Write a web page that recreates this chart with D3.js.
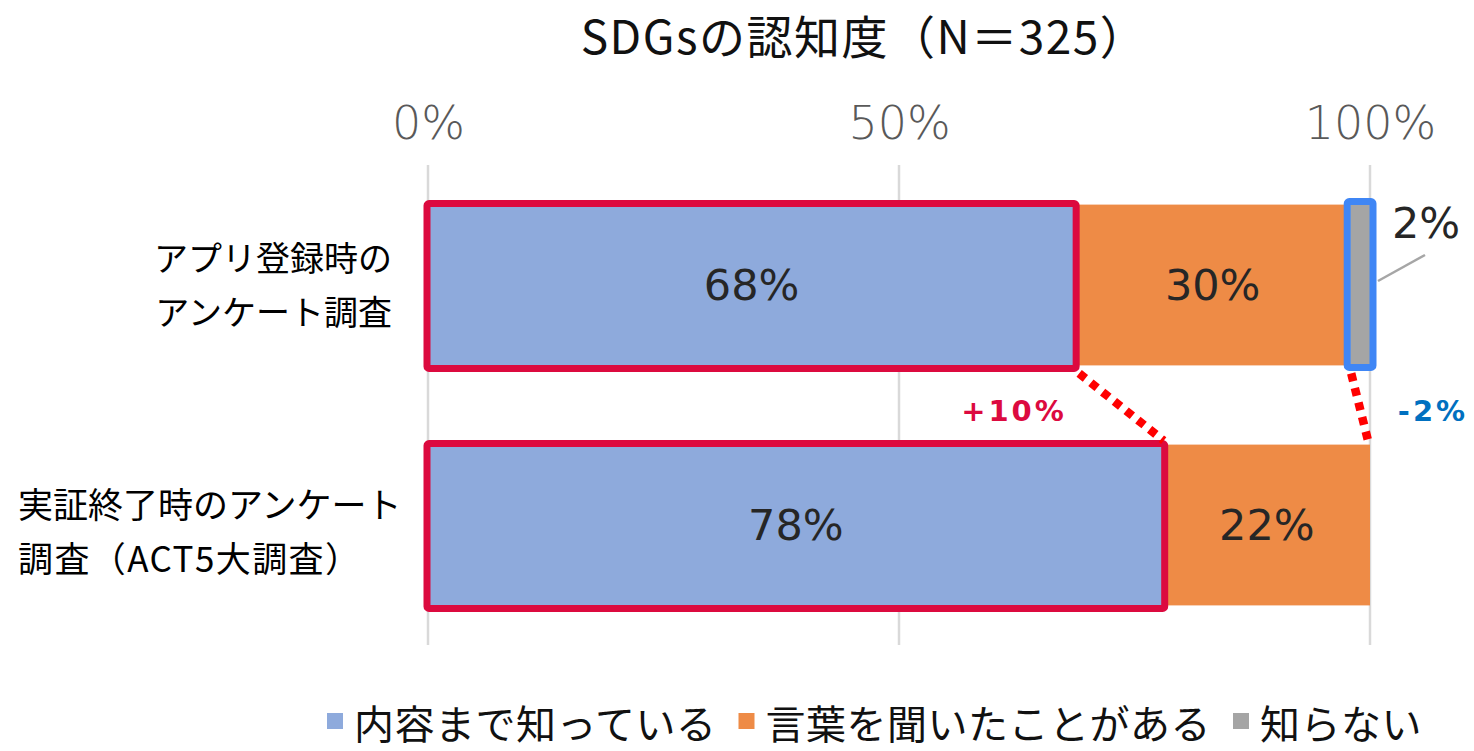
<!DOCTYPE html>
<html>
<head>
<meta charset="utf-8">
<script src="https://cdn.jsdelivr.net/npm/d3@7"></script>
<style>
  html, body { margin: 0; padding: 0; background: #ffffff; }
  svg { display: block; }
</style>
</head>
<body>
<svg id="chart" width="1474" height="751"></svg>
<script>
// ---------- data ----------
const titleText = "SDGsの認知度（N＝325）";
const categories = ["アプリ登録時のアンケート調査", "実証終了時のアンケート調査（ACT5大調査）"];
const categoryLines = [["アプリ登録時の", "アンケート調査"], ["実証終了時のアンケート", "調査（ACT5大調査）"]];
const seriesNames = ["内容まで知っている", "言葉を聞いたことがある", "知らない"];
const knowContent = [68.7, 78.1];
const heardWord = [29.2, 21.9];
const dontKnow = [2.1, 0];
const valueLabels = [["68%", "30%", "2%"], ["78%", "22%", ""]];
const tickValues = [0, 50, 100];
const tickLabels = ["0%", "50%", "100%"];
const diffLabels = ["+10%", "-2%"];

// ---------- setup ----------
const JP = "'Noto Sans CJK JP', 'Noto Sans', sans-serif";
const LAT = "'DejaVu Sans', 'Noto Sans CJK JP', sans-serif";
const colors = ["#8eaadc", "#ee8b46", "#a5a5a5"];
const svg = d3.select("#chart");

const x = d3.scaleLinear().domain([0, 100]).range([428, 1370]);
const y = d3.scaleBand().domain(categories).range([165, 645]).paddingInner(0.33).paddingOuter(0.165);
const color = d3.scaleOrdinal().domain(seriesNames).range(colors);

const rows = categories.map((c, i) => ({
  cat: c,
  [seriesNames[0]]: knowContent[i],
  [seriesNames[1]]: heardWord[i],
  [seriesNames[2]]: dontKnow[i]
}));
const stacked = d3.stack().keys(seriesNames)(rows);

// title
svg.append("text")
  .attr("x", 864).attr("y", 54)
  .attr("text-anchor", "middle")
  .attr("font-family", JP).attr("font-size", 46).attr("font-weight", 400)
  .attr("letter-spacing", 1.5)
  .attr("fill", "#111")
  .text(titleText);

// gridlines
svg.append("g").selectAll("line").data(tickValues).join("line")
  .attr("x1", d => x(d)).attr("x2", d => x(d))
  .attr("y1", 165).attr("y2", 645)
  .attr("stroke", "#d9d9d9").attr("stroke-width", 2.5);

// axis labels
const axis = d3.axisTop(x).tickValues(tickValues).tickFormat((d, i) => tickLabels[i]).tickSize(0).tickPadding(0);
const axG = svg.append("g").attr("transform", "translate(0,139)").call(axis);
axG.select(".domain").remove();
axG.selectAll("text")
  .attr("font-family", LAT).attr("font-size", 46).attr("font-weight", 200)
  .attr("fill", "#595959");

// bars
const layers = svg.append("g").selectAll("g").data(stacked).join("g")
  .attr("fill", d => color(d.key));
layers.selectAll("rect").data(d => d.map(v => ({ v, key: d.key }))).join("rect")
  .attr("x", d => x(d.v[0]))
  .attr("y", d => y(d.v.data.cat))
  .attr("width", d => Math.max(0, x(d.v[1]) - x(d.v[0])))
  .attr("height", y.bandwidth());

// in-bar value labels (skip the tiny gray segment)
const labG = svg.append("g");
stacked.forEach((layer, si) => {
  layer.forEach((v, ci) => {
    const txt = valueLabels[ci][si];
    if (!txt || si === 2) return;
    labG.append("text")
      .attr("x", (x(v[0]) + x(v[1])) / 2)
      .attr("y", y(v.data.cat) + y.bandwidth() / 2)
      .attr("dy", "0.36em")
      .attr("text-anchor", "middle")
      .attr("font-family", LAT).attr("font-size", 43)
      .attr("fill", "#262626")
      .text(txt);
  });
});

// outside label for the gray segment with leader line
const g0 = stacked[2][0];
const bandMid0 = y(categories[0]) + y.bandwidth() / 2;
svg.append("line")
  .attr("x1", x(g0[1]) + 8).attr("y1", bandMid0 - 4)
  .attr("x2", x(g0[1]) + 55).attr("y2", bandMid0 - 30)
  .attr("stroke", "#a6a6a6").attr("stroke-width", 2.5);
svg.append("text")
  .attr("x", x(g0[1]) + 56).attr("y", y(categories[0]) + 33)
  .attr("text-anchor", "middle")
  .attr("font-family", LAT).attr("font-size", 43)
  .attr("fill", "#262626")
  .text(valueLabels[0][2]);

// category labels
const catG = svg.append("g");
categoryLines.forEach((lines, i) => {
  const anchor = i === 0 ? "end" : "start";
  const tx = i === 0 ? 392 : 18;
  const base = i === 0 ? 271 : 518;
  const fs = i === 0 ? 34 : 35;
  lines.forEach((ln, j) => {
    const t = catG.append("text")
      .attr("x", tx).attr("y", base + j * 54)
      .attr("text-anchor", anchor)
      .attr("font-family", JP).attr("font-size", fs)
      .attr("fill", "#000")
      .text(ln);
    if (i === 1 && j === 1) t.attr("textLength", 342).attr("lengthAdjust", "spacing");
  });
});

// highlight boxes
const hl = svg.append("g").attr("fill", "none").attr("stroke-linejoin", "round");
categories.forEach((c, i) => {
  hl.append("rect")
    .attr("x", x(0) - 1).attr("y", y(c) - 1)
    .attr("width", x(knowContent[i]) - x(0) + 2)
    .attr("height", y.bandwidth() + 4)
    .attr("rx", 2)
    .attr("stroke", "#dc0a3f").attr("stroke-width", 7);
});
hl.append("rect")
  .attr("x", x(g0[0]) - 3).attr("y", y(categories[0]) - 3)
  .attr("width", x(g0[1]) - x(g0[0]) + 6)
  .attr("height", y.bandwidth() + 5)
  .attr("rx", 2)
  .attr("stroke", "#3f86f5").attr("stroke-width", 7);

// dotted connectors
const dots = svg.append("g").attr("stroke", "#ff0000").attr("stroke-width", 8.5).attr("stroke-dasharray", "8 7").attr("fill", "none");
const yb0 = y(categories[0]) + y.bandwidth() + 4;
const yt1 = y(categories[1]) - 4;
dots.append("line")
  .attr("x1", x(knowContent[0]) + 4).attr("y1", yb0 + 4)
  .attr("x2", x(knowContent[1])).attr("y2", yt1);
dots.append("line")
  .attr("x1", x(g0[0]) + 1).attr("y1", yb0 + 4)
  .attr("x2", x(100) - 2).attr("y2", yt1);

// difference labels
svg.append("text")
  .attr("x", 1014).attr("y", 421)
  .attr("text-anchor", "middle")
  .attr("font-family", LAT).attr("font-size", 29).attr("font-weight", "bold")
  .attr("letter-spacing", 3)
  .attr("fill", "#dc0a3f")
  .text(diffLabels[0]);
svg.append("text")
  .attr("x", 1433).attr("y", 421)
  .attr("text-anchor", "middle")
  .attr("font-family", LAT).attr("font-size", 29).attr("font-weight", "bold")
  .attr("letter-spacing", 3)
  .attr("fill", "#0070c0")
  .text(diffLabels[1]);

// legend
const leg = svg.append("g");
let lx = 327;
seriesNames.forEach((name, i) => {
  leg.append("rect")
    .attr("x", lx).attr("y", 713).attr("width", 16).attr("height", 16)
    .attr("fill", color(name));
  const t = leg.append("text")
    .attr("x", lx + 27).attr("y", 739)
    .attr("font-family", JP).attr("font-size", 40)
    .attr("letter-spacing", 0.5)
    .attr("fill", "#111")
    .text(name);
  lx += 27 + t.node().getComputedTextLength() + 22;
});
</script>
</body>
</html>
